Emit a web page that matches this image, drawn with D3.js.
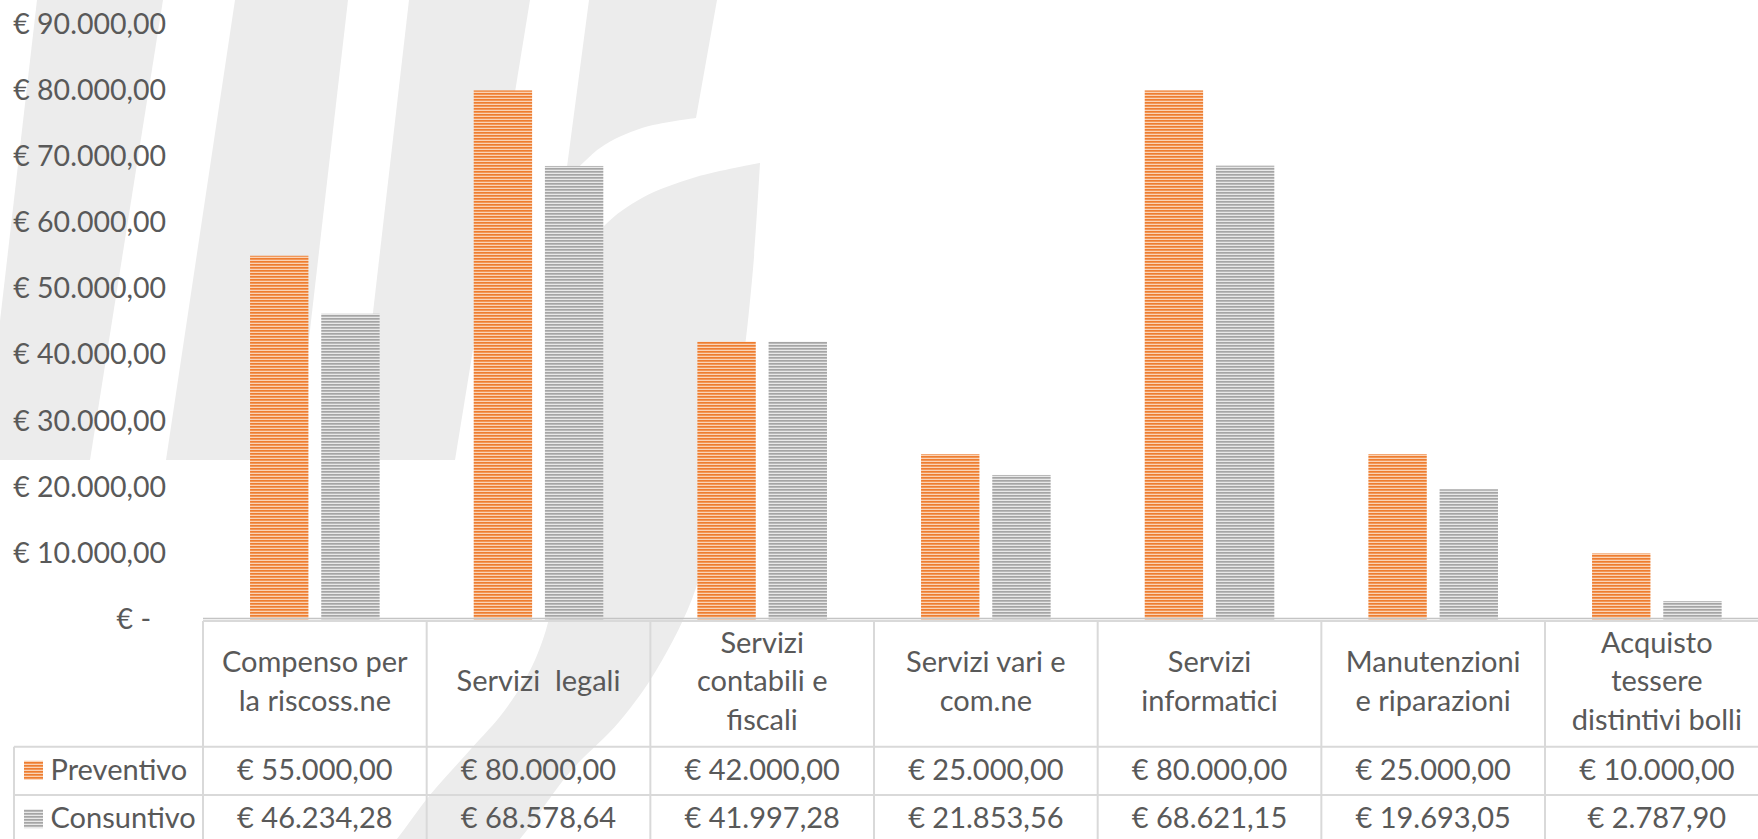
<!DOCTYPE html>
<html>
<head>
<meta charset="utf-8">
<script src="https://cdn.jsdelivr.net/npm/d3@7"></script>
<style>
  html, body { margin: 0; padding: 0; background: #ffffff; overflow: hidden; }
  svg { display: block; }
  text { font-family: Lato, "Noto Sans", sans-serif; fill: #595959; white-space: pre; }
</style>
</head>
<body>
<svg id="chart" width="1758" height="839"></svg>
<script>
// ---------------- DATA ----------------
const categories = [
  "Compenso per\nla riscoss.ne",
  "Servizi  legali",
  "Servizi\ncontabili e\nfiscali",
  "Servizi vari e\ncom.ne",
  "Servizi\ninformatici",
  "Manutenzioni\ne riparazioni",
  "Acquisto\ntessere\ndistintivi bolli"
];
const seriesNames = ["Preventivo", "Consuntivo"];
const preventivo = [55000, 80000, 42000, 25000, 80000, 25000, 10000];
const consuntivo = [46234.28, 68578.64, 41997.28, 21853.56, 68621.15, 19693.05, 2787.90];
const yTicks = [0, 10000, 20000, 30000, 40000, 50000, 60000, 70000, 80000, 90000];

// ---------------- SETUP ----------------
const W = 1758, H = 839;
const svg = d3.select("#chart");
const it = d3.formatLocale({decimal: ",", thousands: ".", grouping: [3], currency: ["€ ", ""]});
const fmt = it.format("$,.2f");
const tickFmt = v => v === 0 ? "€ -" : fmt(v);

const plotLeft = 203, colW = 223.67;
const baseY = 619.5, topY = 24.3;
const x0 = d3.scaleBand().domain(categories).range([plotLeft, plotLeft + colW * categories.length]).paddingInner(0).paddingOuter(0);
const groupW = 129.6;
const x1 = d3.scaleBand().domain(seriesNames)
  .range([(x0.bandwidth() - groupW) / 2, (x0.bandwidth() + groupW) / 2])
  .paddingInner(0.18).paddingOuter(0);
const y = d3.scaleLinear().domain([0, 90000]).range([baseY, topY]);

// ---------------- PATTERNS ----------------
const defs = svg.append("defs");
function stripe(id, light, dark, darkH) {
  const p = defs.append("pattern").attr("id", id).attr("patternUnits", "userSpaceOnUse")
    .attr("width", 8).attr("height", 3);
  p.append("rect").attr("width", 8).attr("height", 3).attr("fill", light);
  p.append("rect").attr("width", 8).attr("height", darkH).attr("fill", dark);
}
stripe("pOrange", "#FAD3B6", "#EE7D30", 1.7);
stripe("pGrey", "#E8E8E8", "#A5A5A5", 1.7);
const fills = {Preventivo: "url(#pOrange)", Consuntivo: "url(#pGrey)"};

// ---------------- WATERMARK (background decoration) ----------------
const wm = svg.append("g").attr("fill", "#ECECEC");
const bands = [
  [[37,0],[163,0],[90,460],[0,460],[0,321]],
  [[235,0],[348,0],[295,460],[166,460]],
  [[409,0],[530,0],[455,460],[356,460]]
];
bands.forEach(b => wm.append("path").attr("d", "M" + b.join("L") + "Z"));
const lineC = d3.line().curve(d3.curveCatmullRom.alpha(0.5));
// shoulder
wm.append("path").attr("d",
  "M589,0L717,0L696,118" + lineC([[696,118],[642,128],[600,148],[565,182]]).slice(1).replace(/^[^C]*/, m => "L" + m) + "Z");
// leaf / swoosh
const leafLeft = [[760,163],[696,177],[642,198],[605,225],[580,260],[566,320],[561,420],[558,520],[553,600],[535,660],[505,710],[470,750],[430,795],[397,839],[380,860]];
const leafRight = [[500,860],[520,839],[570,772],[619,722],[657,669],[696,588],[718,482],[740,381],[753,269],[760,163]];
wm.append("path").attr("d", lineC(leafLeft) + "L" + lineC(leafRight).slice(1) + "Z");

// ---------------- Y AXIS LABELS ----------------
const yAxis = svg.append("g");
yAxis.selectAll("text").data(yTicks).join("text")
  .attr("x", d => d === 0 ? 151 : 166)
  .attr("y", d => y(d) - 1.5)
  .attr("text-anchor", "end")
  .attr("dominant-baseline", "central")
  .attr("font-size", 28.5)
  .text(tickFmt);

// ---------------- BARS ----------------
const rows = categories.map((c, i) => ({cat: c, vals: [
  {s: "Preventivo", v: preventivo[i]}, {s: "Consuntivo", v: consuntivo[i]}]}));
const g = svg.append("g");
g.selectAll("g").data(rows).join("g")
  .attr("transform", d => `translate(${x0(d.cat)},0)`)
  .selectAll("rect").data(d => d.vals).join("rect")
  .attr("x", d => x1(d.s))
  .attr("width", x1.bandwidth())
  .attr("y", d => y(d.v))
  .attr("height", d => y(0) - y(d.v))
  .attr("fill", d => fills[d.s]);

// axis line
svg.append("line").attr("x1", plotLeft).attr("x2", W).attr("y1", 618.5).attr("y2", 618.5)
  .attr("stroke", "#C4C4C4").attr("stroke-width", 1.6);

// ---------------- DATA TABLE ----------------
const tTop = 621, hdrBot = 746.7, rowH = 48.3;
const tbl = svg.append("g").attr("stroke", "#D9D9D9").attr("stroke-width", 2).attr("fill", "none");
const tRight = plotLeft + colW * categories.length;
tbl.append("line").attr("x1", plotLeft).attr("x2", tRight).attr("y1", tTop).attr("y2", tTop);
[hdrBot, hdrBot + rowH, hdrBot + 2 * rowH].forEach(yy =>
  tbl.append("line").attr("x1", 14).attr("x2", tRight).attr("y1", yy).attr("y2", yy));
tbl.append("line").attr("x1", 14).attr("x2", 14).attr("y1", hdrBot).attr("y2", H + 5);
d3.range(categories.length + 1).forEach(i =>
  tbl.append("line").attr("x1", plotLeft + i * colW).attr("x2", plotLeft + i * colW)
    .attr("y1", tTop).attr("y2", H + 5));

// header labels
const lineH = 38.7, hdrMid = (tTop + hdrBot) / 2 - 4;
categories.forEach(c => {
  const lines = c.split("\n");
  const cx = x0(c) + x0.bandwidth() / 2;
  const t = svg.append("text").attr("text-anchor", "middle").attr("font-size", 29);
  lines.forEach((ln, k) => {
    t.append("tspan").attr("x", cx)
      .attr("y", hdrMid + (k - (lines.length - 1) / 2) * lineH)
      .attr("dominant-baseline", "central")
      .text(ln);
  });
});

// series rows
const seriesVals = [preventivo, consuntivo];
seriesNames.forEach((s, si) => {
  const cy = hdrBot + rowH * si + rowH / 2;
  svg.append("rect").attr("x", 24).attr("y", cy - 10).attr("width", 19).attr("height", 19)
    .attr("fill", fills[s]);
  svg.append("text").attr("x", 50.5).attr("y", cy - 2.5).attr("dominant-baseline", "central")
    .attr("font-size", 29).text(s);
  categories.forEach((c, ci) => {
    svg.append("text").attr("x", x0(c) + x0.bandwidth() / 2).attr("y", cy - 2.5)
      .attr("text-anchor", "middle").attr("dominant-baseline", "central")
      .attr("font-size", 29).text(fmt(seriesVals[si][ci]));
  });
});
</script>
</body>
</html>
